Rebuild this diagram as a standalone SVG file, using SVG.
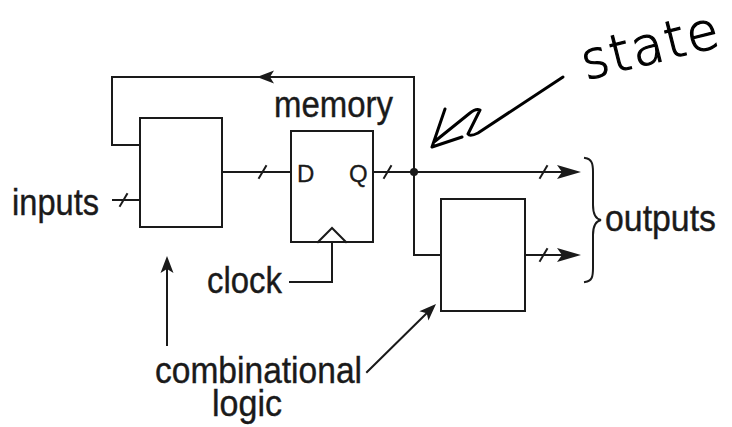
<svg xmlns="http://www.w3.org/2000/svg" width="732" height="427" viewBox="0 0 732 427">
<style>
.ln{fill:none;stroke:#1a1a1a;stroke-width:2;stroke-linecap:square}
.box{fill:#fff;stroke:#1a1a1a;stroke-width:2}
.lbl{font-family:"Liberation Sans",Arial,sans-serif;font-size:37px;fill:#1a1a1a;stroke:#1a1a1a;stroke-width:0.4}
.pin{font-family:"Liberation Sans",Arial,sans-serif;font-size:24px;fill:#1a1a1a;stroke:#1a1a1a;stroke-width:0.3}
.hand{fill:none;stroke:#000;stroke-width:3;stroke-linecap:round;stroke-linejoin:round}
.head{fill:#1a1a1a;stroke:none}
</style>
<defs>
<path id="ahBig" class="head" d="M0,0 L-24,-7 L-19,0 L-24,7 Z"/>
<path id="ahSm" class="head" d="M0,0 L-17,-6.5 L-13,0 L-17,6.5 Z"/>
</defs>
<rect width="732" height="427" fill="#fff"/>
<g id="connectors">
<path class="ln" d="M140,145 H112 V77 H414 V255 H441"/>
<path class="ln" d="M113,200 H140"/>
<path class="ln" d="M222,172 H291"/>
<path class="ln" d="M373,172 H570"/>
<path class="ln" d="M525,255 H570"/>
<path class="ln" d="M290,282 H332 V242"/>
<path class="ln" d="M167,345 V265"/>
<path class="ln" d="M367,372 L430,310"/>
<use href="#ahSm" transform="translate(257,77) rotate(180)"/>
<use href="#ahBig" transform="translate(581,172)"/>
<use href="#ahBig" transform="translate(581,255)"/>
<use href="#ahSm" transform="translate(167,256) rotate(-90)"/>
<use href="#ahSm" transform="translate(436,304) rotate(-44.6)"/>
<circle cx="414" cy="172" r="4" fill="#1a1a1a"/>
<g class="ln">
<path d="M120,206 L127,194"/>
<path d="M259,178 L266,166"/>
<path d="M384,178 L391,166"/>
<path d="M540,178 L547,166"/>
<path d="M540,261 L547,249"/>
</g>
<path class="ln" d="M585,158 C592,159 593,164 593,172 V205 C593,214 596,219 601,220 C596,221 593,226 593,235 V268 C593,277 592,281 585,282"/>
</g>
<g id="comb1"><rect class="box" x="140" y="118" width="82" height="109"/></g>
<g id="memory">
<rect class="box" x="291" y="131" width="82" height="111"/>
<path class="ln" d="M318,242 L332,228 L346,242" stroke-linecap="butt"/>
<text class="pin" x="297" y="182">D</text>
<text class="pin" x="349" y="182">Q</text>
<text class="lbl" x="274" y="117" textLength="119" lengthAdjust="spacingAndGlyphs">memory</text>
</g>
<g id="comb2"><rect class="box" x="441" y="199" width="84" height="112"/></g>
<g id="labels">
<text class="lbl" x="12" y="215" textLength="87" lengthAdjust="spacingAndGlyphs">inputs</text>
<text class="lbl" x="207" y="293" textLength="75" lengthAdjust="spacingAndGlyphs">clock</text>
<text class="lbl" x="605" y="231" textLength="111" lengthAdjust="spacingAndGlyphs">outputs</text>
<text class="lbl" x="155" y="383" textLength="207" lengthAdjust="spacingAndGlyphs">combinational</text>
<text class="lbl" x="212" y="416" textLength="70" lengthAdjust="spacingAndGlyphs">logic</text>
</g>
<g id="state">
<path class="hand" d="M445,109 L432,147 L462,137 M434,142 L470,113 Q476,108 480,110 L468,134 Q470,137 478,133 L563,77"/>
<text x="586" y="80" transform="rotate(-14 586 80)" font-family="'DejaVu Sans',sans-serif" font-weight="200" font-size="52" fill="#000" stroke="#000" stroke-width="1.2" textLength="140" lengthAdjust="spacing">state</text>
</g>
</svg>
